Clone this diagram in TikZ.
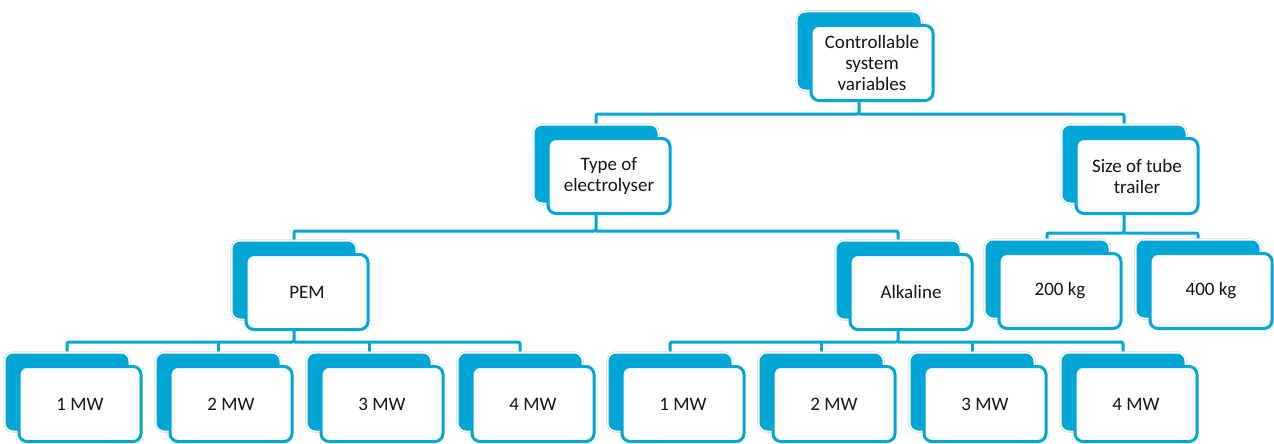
\documentclass[tikz,border=0pt]{standalone}
\usepackage{fontspec}
\setmainfont{Carlito}
\usetikzlibrary{backgrounds}
\definecolor{sablue}{RGB}{0,166,214}
\definecolor{txtcol}{RGB}{20,20,20}
\tikzset{
 backbox/.style={rounded corners=8pt, fill=sablue, minimum width=123pt, minimum height=77pt, inner sep=0pt,
   preaction={draw=gray!30,line width=4.5pt}, preaction={draw=white,line width=3pt}},
 frontbox/.style={rounded corners=8pt, fill=white, draw=sablue, line width=3pt, minimum width=122pt,
   minimum height=75pt, inner sep=0pt, align=center, text=txtcol, font=\fontsize{19}{21}\selectfont},
 conn/.style={draw=sablue, line width=3pt, rounded corners=2pt}
}
\newcommand{\dnode}[4]{%
  \node[backbox] (#1b) at (#2,#3) {};
  \node[frontbox] (#1) at (#2+13,#3+12) {#4};}
\begin{document}
\begin{tikzpicture}[x=1pt,y=-1pt]
\useasboundingbox (0,0) rectangle (1274,444);
\dnode{top}{859}{51}{Controllable\\system\\variables}
\dnode{type}{596}{164}{Type of\\electrolyser}
\dnode{size}{1124}{164}{Size of tube\\trailer}
\dnode{pem}{294}{280}{PEM}
\dnode{alk}{898}{280}{Alkaline}
\dnode{kga}{1047}{279}{200 kg}
\dnode{kgb}{1198}{279}{400 kg}
\dnode{pa}{67}{392}{1 MW}
\dnode{pb}{218}{392}{2 MW}
\dnode{pc}{369}{392}{3 MW}
\dnode{pd}{520}{392}{4 MW}
\dnode{aa}{670}{392}{1 MW}
\dnode{ab}{821}{392}{2 MW}
\dnode{ac}{972}{392}{3 MW}
\dnode{ad}{1123}{392}{4 MW}
\coordinate (busA) at (0,114);
\coordinate (busB) at (0,231);
\coordinate (busC) at (0,233);
\coordinate (busD) at (0,342);
\begin{scope}[on background layer]
\draw[conn] (topb.south) -- (topb.south |- busA) -| (typeb.north);
\draw[conn] (topb.south |- busA) -| (sizeb.north);
\draw[conn] (typeb.south) -- (typeb.south |- busB) -| (pemb.north);
\draw[conn] (typeb.south |- busB) -| (alkb.north);
\draw[conn] (sizeb.south) -- (sizeb.south |- busC) -| (kgab.north);
\draw[conn] (sizeb.south |- busC) -| (kgbb.north);
\draw[conn] (pemb.south) -- (pemb.south |- busD) -| (pab.north);
\draw[conn] (pemb.south |- busD) -| (pdb.north);
\draw[conn] (pbb.north) -- (pbb.north |- busD);
\draw[conn] (pcb.north) -- (pcb.north |- busD);
\draw[conn] (alkb.south) -- (alkb.south |- busD) -| (aab.north);
\draw[conn] (alkb.south |- busD) -| (adb.north);
\draw[conn] (abb.north) -- (abb.north |- busD);
\draw[conn] (acb.north) -- (acb.north |- busD);
\end{scope}
\end{tikzpicture}
\end{document}
